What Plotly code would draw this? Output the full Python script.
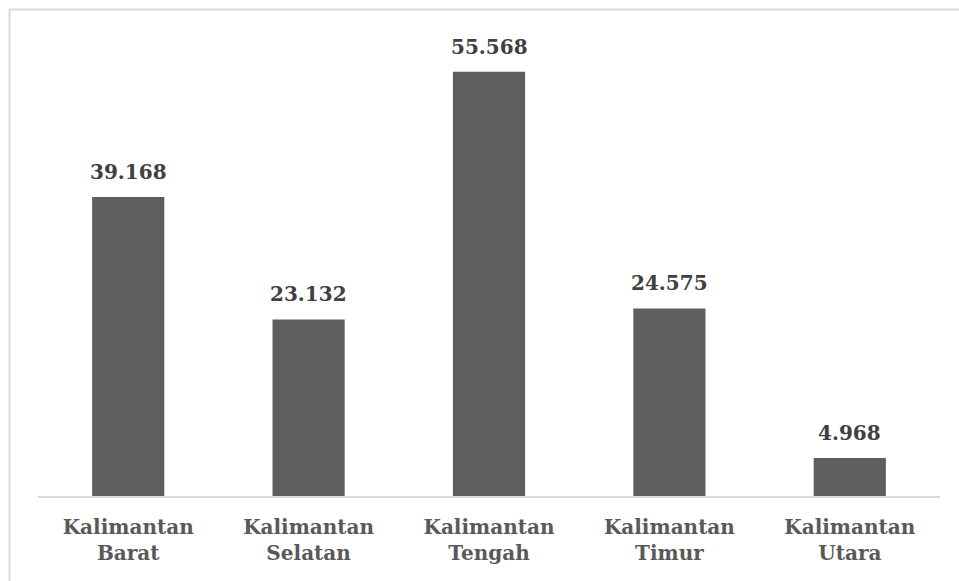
import plotly.graph_objects as go

categories = ["Kalimantan<br>Barat", "Kalimantan<br>Selatan", "Kalimantan<br>Tengah",
              "Kalimantan<br>Timur", "Kalimantan<br>Utara"]
values = [39.168, 23.132, 55.568, 24.575, 4.968]
value_labels = ["39.168", "23.132", "55.568", "24.575", "4.968"]

W, H = 959, 581
L, R, T, B = 38, 19, 38, 85
pw, ph = W - L - R, H - T - B

fig = go.Figure()
fig.add_trace(go.Bar(x=categories, y=values, marker=dict(color="#5e5e5e", line=dict(width=0)),
                     hoverinfo="skip"))

for c, v, t in zip(categories, values, value_labels):
    fig.add_annotation(x=c, y=v, text="<b>" + t + "</b>", showarrow=False,
                       yanchor="bottom", yshift=11,
                       font=dict(family="DejaVu Serif", size=20, color="#404040"))

# outer chart border (light gray)
def px_x(p):
    return (p - L) / pw

def px_y(p):
    return (H - B - p) / ph

fig.add_shape(type="line", xref="paper", yref="paper",
              x0=px_x(9.5), x1=px_x(9.5), y0=px_y(9.5), y1=px_y(H + 20),
              line=dict(color="#d9d9d9", width=2))
fig.add_shape(type="line", xref="paper", yref="paper",
              x0=px_x(9.5), x1=px_x(W + 20), y0=px_y(9.5), y1=px_y(9.5),
              line=dict(color="#d9d9d9", width=2))

fig.update_layout(
    width=W, height=H, autosize=False,
    margin=dict(l=L, r=R, t=T, b=B),
    paper_bgcolor="white", plot_bgcolor="white",
    bargap=0.6, showlegend=False,
    xaxis=dict(showline=True, linecolor="#d9d9d9", linewidth=1.5, ticks="",
               showgrid=False, zeroline=False, ticklabelstandoff=12,
               tickfont=dict(family="DejaVu Serif", size=20, color="#595959")),
    yaxis=dict(range=[0, 60], visible=False, showgrid=False, zeroline=False),
)
# bold tick labels
fig.update_xaxes(tickvals=categories, ticktext=["<b>" + c + "</b>" for c in categories])

fig.write_html("out.html")
